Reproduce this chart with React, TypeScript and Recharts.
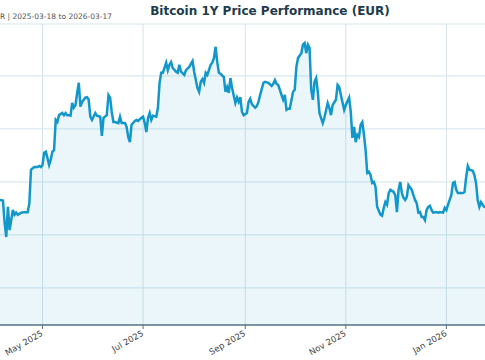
import { AreaChart, Area, XAxis, YAxis, CartesianGrid } from 'recharts';

const TITLE = 'Bitcoin 1Y Price Performance (EUR)';
const SUBTITLE = 'Daily close in EUR | 2025-03-18 to 2026-03-17';

const dates = [
  '2025-03-18', '2025-03-21', '2025-03-24', '2025-03-27', '2025-03-31', '2025-04-02', '2025-04-04', '2025-04-05',
  '2025-04-07', '2025-04-08', '2025-04-09', '2025-04-10', '2025-04-11', '2025-04-12', '2025-04-13', '2025-04-14',
  '2025-04-15', '2025-04-16', '2025-04-18', '2025-04-20', '2025-04-22', '2025-04-23', '2025-04-24', '2025-04-25',
  '2025-04-26', '2025-04-28', '2025-04-29', '2025-04-30', '2025-05-01', '2025-05-02', '2025-05-03', '2025-05-04',
  '2025-05-05', '2025-05-06', '2025-05-07', '2025-05-08', '2025-05-09', '2025-05-10', '2025-05-11', '2025-05-13',
  '2025-05-14', '2025-05-15', '2025-05-16', '2025-05-17', '2025-05-18', '2025-05-19', '2025-05-20', '2025-05-21',
  '2025-05-22', '2025-05-23', '2025-05-24', '2025-05-25', '2025-05-27', '2025-05-28', '2025-05-29', '2025-05-30',
  '2025-05-31', '2025-06-02', '2025-06-03', '2025-06-05', '2025-06-06', '2025-06-07', '2025-06-09', '2025-06-10',
  '2025-06-11', '2025-06-12', '2025-06-13', '2025-06-14', '2025-06-16', '2025-06-17', '2025-06-18', '2025-06-20',
  '2025-06-21', '2025-06-22', '2025-06-23', '2025-06-24', '2025-06-26', '2025-06-27', '2025-06-28', '2025-06-30',
  '2025-07-01', '2025-07-02', '2025-07-03', '2025-07-04', '2025-07-05', '2025-07-06', '2025-07-07', '2025-07-09',
  '2025-07-10', '2025-07-11', '2025-07-12', '2025-07-13', '2025-07-15', '2025-07-16', '2025-07-17', '2025-07-18',
  '2025-07-19', '2025-07-21', '2025-07-22', '2025-07-23', '2025-07-24', '2025-07-26', '2025-07-27', '2025-07-29',
  '2025-07-31', '2025-08-01', '2025-08-03', '2025-08-04', '2025-08-05', '2025-08-06', '2025-08-07', '2025-08-08',
  '2025-08-09', '2025-08-11', '2025-08-12', '2025-08-13', '2025-08-14', '2025-08-15', '2025-08-16', '2025-08-17',
  '2025-08-19', '2025-08-20', '2025-08-21', '2025-08-22', '2025-08-23', '2025-08-24', '2025-08-26', '2025-08-27',
  '2025-08-28', '2025-08-29', '2025-08-30', '2025-08-31', '2025-09-02', '2025-09-03', '2025-09-04', '2025-09-05',
  '2025-09-07', '2025-09-08', '2025-09-09', '2025-09-10', '2025-09-12', '2025-09-13', '2025-09-15', '2025-09-17',
  '2025-09-18', '2025-09-19', '2025-09-20', '2025-09-21', '2025-09-23', '2025-09-24', '2025-09-25', '2025-09-26',
  '2025-09-27', '2025-09-28', '2025-09-30', '2025-10-01', '2025-10-02', '2025-10-03', '2025-10-05', '2025-10-06',
  '2025-10-07', '2025-10-08', '2025-10-09', '2025-10-10', '2025-10-11', '2025-10-12', '2025-10-13', '2025-10-14',
  '2025-10-15', '2025-10-16', '2025-10-18', '2025-10-19', '2025-10-21', '2025-10-22', '2025-10-23', '2025-10-24',
  '2025-10-26', '2025-10-27', '2025-10-28', '2025-10-29', '2025-10-31', '2025-11-01', '2025-11-03', '2025-11-04',
  '2025-11-05', '2025-11-06', '2025-11-07', '2025-11-08', '2025-11-09', '2025-11-10', '2025-11-11', '2025-11-12',
  '2025-11-13', '2025-11-14', '2025-11-15', '2025-11-16', '2025-11-17', '2025-11-18', '2025-11-19', '2025-11-20',
  '2025-11-22', '2025-11-23', '2025-11-24', '2025-11-25', '2025-11-26', '2025-11-27', '2025-11-28', '2025-11-30',
  '2025-12-01', '2025-12-02', '2025-12-03', '2025-12-04', '2025-12-05', '2025-12-06', '2025-12-07', '2025-12-08',
  '2025-12-09', '2025-12-11', '2025-12-12', '2025-12-13', '2025-12-14', '2025-12-15', '2025-12-16', '2025-12-17',
  '2025-12-18', '2025-12-19', '2025-12-20', '2025-12-21', '2025-12-22', '2025-12-23', '2025-12-24', '2025-12-26',
  '2025-12-27', '2025-12-28', '2025-12-30', '2025-12-31', '2026-01-01', '2026-01-02', '2026-01-03', '2026-01-04',
  '2026-01-05', '2026-01-06', '2026-01-07', '2026-01-08', '2026-01-10', '2026-01-11', '2026-01-12', '2026-01-13',
  '2026-01-14', '2026-01-15', '2026-01-17', '2026-01-18', '2026-01-19', '2026-01-20', '2026-01-21', '2026-01-22',
  '2026-01-23', '2026-01-24', '2026-01-27', '2026-01-31', '2026-02-03', '2026-02-05', '2026-02-07', '2026-02-14',
  '2026-02-21', '2026-02-28', '2026-03-08', '2026-03-17',
];

const prices = [
  76000, 77500, 81000, 80000, 76000, 78000, 77000, 76600,
  76500, 72300, 69600, 75300, 70900, 72800, 74700, 73800,
  74200, 73800, 74200, 74300, 74300, 76000, 82300, 82600,
  82800, 82800, 83000, 82800, 83200, 85500, 85700, 84500,
  83200, 84200, 85700, 86000, 91700, 91300, 92600, 93000,
  92600, 93000, 92600, 92600, 92500, 94900, 94000, 94500,
  96800, 98700, 94200, 95100, 95900, 96000, 95500, 92300,
  91700, 93000, 92500, 92300, 88700, 92100, 92600, 96400,
  95900, 93200, 91300, 91300, 91100, 92300, 91100, 91100,
  90400, 88500, 87500, 90800, 91500, 91700, 91500, 92100,
  92300, 91100, 89400, 92100, 93000, 91700, 92500, 92300,
  94000, 98700, 100600, 100600, 102500, 101100, 102100, 102600,
  101500, 100800, 100600, 102100, 100800, 100200, 101100, 101700,
  102800, 100800, 97700, 97000, 98900, 99400, 98700, 100600,
  100200, 102100, 102500, 103400, 105500, 102600, 100600, 100400,
  99800, 97000, 97900, 96800, 99600, 97700, 94900, 95900,
  95100, 96000, 93200, 92600, 93000, 95100, 95700, 94700,
  94000, 94300, 95100, 96400, 98700, 98900, 98700, 98100,
  98500, 99200, 98500, 98300, 96400, 95500, 96400, 93600,
  93800, 93800, 97000, 97400, 101700, 103400, 104300, 105900,
  106200, 104300, 105900, 105300, 97400, 95500, 98900, 99600,
  97000, 93000, 91100, 92100, 94900, 94000, 92600, 94500,
  95500, 98300, 97900, 96400, 93600, 94500, 95900, 93200,
  88300, 90400, 87500, 88900, 88500, 90800, 91300, 88900,
  86000, 81700, 81900, 81300, 79800, 80000, 79100, 75300,
  73800, 73600, 75100, 76200, 75700, 77900, 78500, 78100,
  77500, 74300, 78500, 80000, 77900, 77000, 76600, 77200,
  79400, 78500, 77500, 76600, 76000, 74200, 74300, 73400,
  73400, 72800, 74700, 75300, 75500, 74700, 74200, 74300,
  74200, 74300, 74200, 75100, 74700, 75700, 76600, 77500,
  79800, 80000, 78500, 77900, 77900, 77900, 78100, 80900,
  83000, 82300, 82100, 81300, 79800, 76600, 75300, 76200,
  75700, 75300, 75000, 70000, 64000, 54000, 59000, 58500,
  57000, 56000, 57500, 62000,
];

const tickDates = ['2025-05-01', '2025-07-01', '2025-09-01', '2025-11-01', '2026-01-01'];
const priceTicks = [60000, 70000, 80000, 90000, 100000];
const priceDomain = [53000, 109800];
const MONTHS = ['Jan', 'Feb', 'Mar', 'Apr', 'May', 'Jun', 'Jul', 'Aug', 'Sep', 'Oct', 'Nov', 'Dec'];

const toTime = (s: string) => {
  const [y, m, d] = s.split('-').map(Number);
  return Date.UTC(y, m - 1, d);
};

const chartData = dates.map((d, i) => ({ t: toTime(d), price: prices[i] }));
const timeDomain = [toTime('2025-03-18'), toTime('2026-03-17')];

const AXIS = '#5a7482';
const LINE = '#1297cb';

function DateTick(props: any) {
  const { x, y, payload } = props;
  const dt = new Date(payload.value);
  const label = `${MONTHS[dt.getUTCMonth()]} ${dt.getUTCFullYear()}`;
  const ax = x + 1;
  const ay = y + 4;
  return (
    <text
      x={ax}
      y={ay}
      textAnchor="end"
      fontSize={8.5}
      fontFamily="DejaVu Sans"
      fill="#444"
      transform={`rotate(-30 ${ax} ${ay})`}
    >
      {label}
    </text>
  );
}

// y labels sit outside the cropped view, so render an empty tick
const NoTick = () => <g />;

export default function App() {
  return (
    <div
      style={{
        position: 'absolute',
        left: 0,
        top: 0,
        width: 485,
        height: 360,
        overflow: 'hidden',
        background: '#fff',
      }}
    >
      <div style={{ position: 'absolute', left: -100, top: 0 }}>
        <AreaChart width={700} height={360} data={chartData} margin={{ top: 24, right: 30, bottom: 0, left: 0 }}>
          <CartesianGrid stroke="#d3e4eb" strokeWidth={1} />
          <XAxis
            dataKey="t"
            type="number"
            domain={timeDomain}
            ticks={tickDates.map(toTime)}
            height={35}
            axisLine={{ stroke: AXIS, strokeWidth: 1.5 }}
            tickLine={{ stroke: AXIS }}
            tickSize={4}
            tick={<DateTick />}
            interval={0}
          />
          {/* top spine */}
          <XAxis
            xAxisId="top"
            orientation="top"
            dataKey="t"
            type="number"
            domain={timeDomain}
            height={0}
            tick={false}
            tickLine={false}
            axisLine={{ stroke: AXIS, strokeWidth: 1.5 }}
          />
          <YAxis
            type="number"
            domain={priceDomain}
            ticks={priceTicks}
            width={70}
            tick={<NoTick />}
            axisLine={false}
            tickLine={false}
            interval={0}
          />
          <Area
            type="linear"
            dataKey="price"
            stroke={LINE}
            strokeWidth={2.5}
            fill={LINE}
            fillOpacity={0.09}
            isAnimationActive={false}
            dot={false}
            activeDot={false}
          />
        </AreaChart>
      </div>
      <svg width={485} height={22} style={{ position: 'absolute', left: 0, top: 0 }}>
        <text
          x={270}
          y={15}
          textAnchor="middle"
          fontSize={12}
          fontWeight="bold"
          fontFamily="DejaVu Sans"
          fill="#1d3b4d"
        >
          {TITLE}
        </text>
        <text x={112} y={19} textAnchor="end" fontSize={7.5} fontFamily="DejaVu Sans" fill="#555">
          {SUBTITLE}
        </text>
      </svg>
    </div>
  );
}
